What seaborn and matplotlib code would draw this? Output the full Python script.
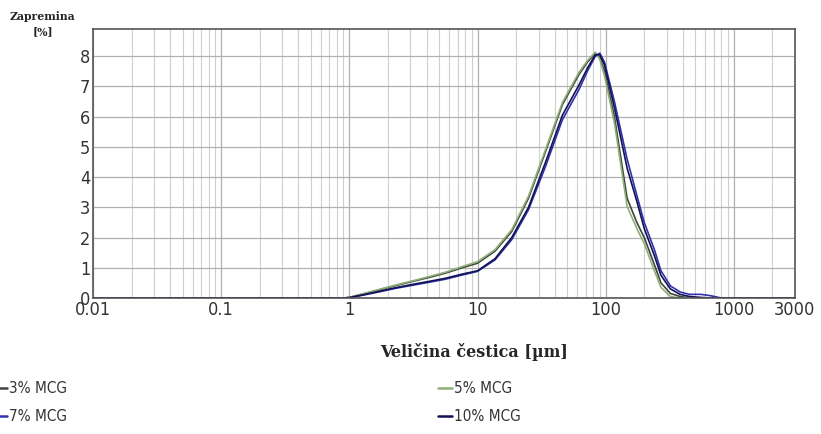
import numpy as np
import pandas as pd
import matplotlib
matplotlib.use("Agg")
import matplotlib.pyplot as plt
from matplotlib import font_manager
from matplotlib.font_manager import FontProperties
from matplotlib.lines import Line2D
from matplotlib.ticker import LogLocator, NullFormatter
import seaborn as sns

# ---- data ----
sizes = [0.01, 0.9, 1.0, 1.3, 1.7, 2.3, 3.2, 4.2, 5.6, 7.6, 10, 13.7, 18.5, 25, 34, 46,
         62, 72, 83, 90, 98, 117, 147, 175, 200, 240, 270, 320, 380, 450, 550, 650, 800, 3000]
mcg3 = [0, 0, 0.02, 0.14, 0.27, 0.41, 0.56, 0.68, 0.82, 1.0, 1.15, 1.55, 2.2, 3.3, 4.85, 6.4,
        7.4, 7.8, 8.1, 7.95, 7.5, 6.0, 3.3, 2.5, 2.0, 1.1, 0.5, 0.15, 0.05, 0, 0, 0, 0, 0]
mcg5 = [0, 0, 0.02, 0.15, 0.28, 0.43, 0.58, 0.71, 0.85, 1.04, 1.2, 1.6, 2.26, 3.37, 4.92, 6.47,
        7.47, 7.85, 8.13, 7.9, 7.35, 5.8, 3.03, 2.3, 1.8, 0.9, 0.35, 0.05, 0, 0, 0, 0, 0, 0]
mcg7 = [0, 0, 0.01, 0.1, 0.2, 0.32, 0.43, 0.52, 0.62, 0.76, 0.88, 1.26, 1.93, 2.92, 4.36, 5.9,
        6.9, 7.5, 8.0, 8.1, 7.8, 6.5, 4.6, 3.4, 2.5, 1.6, 0.9, 0.4, 0.2, 0.12, 0.12, 0.08, 0, 0]
mcg10 = [0, 0, 0.01, 0.11, 0.22, 0.34, 0.46, 0.55, 0.65, 0.79, 0.9, 1.3, 2.0, 3.0, 4.5, 6.05,
         7.05, 7.6, 8.05, 8.05, 7.7, 6.3, 4.3, 3.2, 2.3, 1.4, 0.75, 0.3, 0.12, 0.05, 0.02, 0, 0, 0]
series_names = ["3% MCG", "5% MCG", "7% MCG", "10% MCG"]
x_ticks = [0.01, 0.1, 1, 10, 100, 1000, 3000]
x_tick_labels = ["0.01", "0.1", "1", "10", "100", "1000", "3000"]
y_ticks = [0, 1, 2, 3, 4, 5, 6, 7, 8]

colors = {"3% MCG": "#3c463c", "5% MCG": "#8fae78", "7% MCG": "#3030b0", "10% MCG": "#121250"}

df = pd.concat([
    pd.DataFrame({"size": sizes, "vol": v, "series": n})
    for n, v in zip(series_names, [mcg3, mcg5, mcg7, mcg10])
], ignore_index=True)

sns.set_style("white")

# find an upright, regular-weight condensed sans font if one is installed
def _is_regular(f):
    return f.style == "normal" and f.weight in (400, "normal", "regular", "book")

cands = [f for f in font_manager.fontManager.ttflist
         if ("narrow" in f.name.lower() or "condensed" in f.name.lower()
             or str(f.stretch) in ("condensed", "semi-condensed"))
         and _is_regular(f) and "italic" not in f.fname.lower() and "oblique" not in f.fname.lower()]
if cands:
    cond_fp = FontProperties(fname=cands[0].fname)
else:
    cond_fp = FontProperties(family="DejaVu Sans")
plt.rcParams["font.family"] = ["DejaVu Sans"]

fig = plt.figure(figsize=(8.21, 4.34), dpi=100)
ax = fig.add_axes([0.1133, 0.3134, 0.855, 0.6198])

sns.lineplot(data=df, x="size", y="vol", hue="series", hue_order=series_names,
             palette=colors, ax=ax, linewidth=1.2, legend=False, estimator=None, sort=False)

ax.set_xscale("log")
ax.set_xlim(0.01, 3000)
ax.set_ylim(0, 8.9)
ax.set_xticks(x_ticks)
ax.set_xticklabels(x_tick_labels)
ax.xaxis.set_minor_locator(LogLocator(base=10, subs=np.arange(2, 10), numticks=20))
ax.xaxis.set_minor_formatter(NullFormatter())
ax.set_yticks(y_ticks)
ax.tick_params(axis="both", which="both", length=0, colors="#333333", pad=2)
for lab in ax.get_xticklabels() + ax.get_yticklabels():
    lab.set_fontproperties(cond_fp)
    lab.set_fontsize(13)
    lab.set_color("#333333")
ax.grid(True, which="major", axis="both", color="#b0b0b0", linewidth=0.9)
ax.grid(True, which="minor", axis="x", color="#cfcfcf", linewidth=0.8)
ax.set_axisbelow(True)
for s in ax.spines.values():
    s.set_color("#555555")
    s.set_linewidth(1.2)
ax.set_xlabel("")
ax.set_ylabel("")

fig.text(0.052, 0.962, "Zapremina", ha="center", va="center", fontsize=7.8,
         fontweight="bold", family="DejaVu Serif")
fig.text(0.052, 0.928, "[%]", ha="center", va="center", fontsize=7.8,
         fontweight="bold", family="DejaVu Serif")
fig.text(0.578, 0.188, "Veličina čestica [µm]", ha="center", va="center", fontsize=11.5,
         fontweight="bold", family="DejaVu Serif")

handles = [Line2D([], [], color=colors[n], linewidth=1.8) for n in series_names]
order = [0, 2, 1, 3]
leg = fig.legend([handles[i] for i in order], [series_names[i] for i in order],
                 loc="upper left", bbox_to_anchor=(-0.008, 0.122), ncol=2, frameon=False,
                 prop=cond_fp, handlelength=1.0, handletextpad=0.15, columnspacing=26.7,
                 labelspacing=0.95, borderaxespad=0, borderpad=0)
for t in leg.get_texts():
    t.set_color("#333333")
    t.set_fontsize(11)

fig.savefig("out.png", dpi=100)
